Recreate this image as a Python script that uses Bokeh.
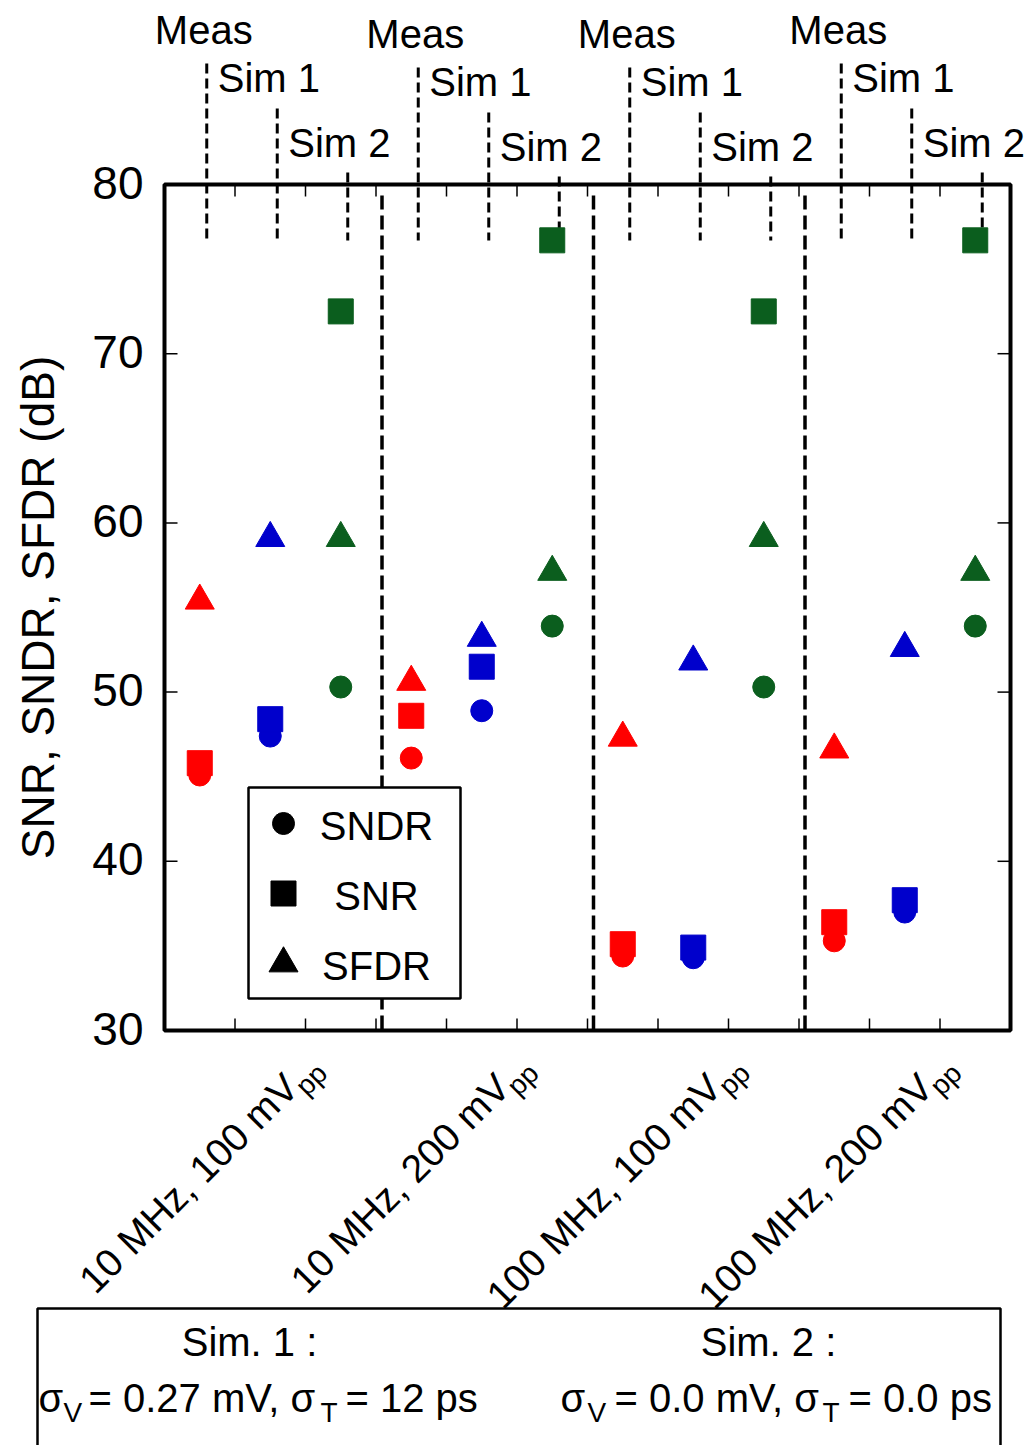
import math
from bokeh.plotting import figure
from bokeh.models import Range1d
from bokeh.core.properties import value
from bokeh.embed import file_html
from bokeh.resources import INLINE

# ---------------- data ----------------
groups = ["10 MHz, 100 mV", "10 MHz, 200 mV", "100 MHz, 100 mV", "100 MHz, 200 mV"]
cases = ["Meas", "Sim 1", "Sim 2"]
case_colors = ["#FF0000", "#0000CC", "#0B5E1E"]
# values per group, order: Meas, Sim 1, Sim 2
sndr = [[45.1, 47.4, 50.3], [46.1, 48.9, 53.9], [34.4, 34.3, 50.3], [35.3, 37.0, 53.9]]
snr = [[45.8, 48.4, 72.5], [48.6, 51.5, 76.7], [35.1, 34.9, 72.5], [36.4, 37.7, 76.7]]
sfdr = [[55.4, 59.1, 59.1], [50.6, 53.2, 57.1], [47.3, 51.8, 59.1], [46.6, 52.6, 57.1]]
y_ticks = [30, 40, 50, 60, 70, 80]
y_label = "SNR, SNDR, SFDR (dB)"
legend_labels = ["SNDR", "SNR", "SFDR"]
sim_titles = ["Sim. 1 :", "Sim. 2 :"]
sim_params = [["σ", "V", "= 0.27 mV, σ", "T", "= 12 ps"],
              ["σ", "V", "= 0.0 mV, σ", "T", "= 0.0 ps"]]

# ---------------- layout (canvas pixels -> data) ----------------
FONT = "Liberation Sans"
X0_PX, PX_PER_X = 164.0, 70.5
Y80_PX, PX_PER_DB = 184.0, 16.92
W, H = 1034, 1445

def dx(px):
    return (px - X0_PX) / PX_PER_X

def dy(py):
    return 80.0 - (py - Y80_PX) / PX_PER_DB

def wx(n):  # pixel length -> x units
    return n / PX_PER_X

def wy(n):  # pixel length -> y units
    return n / PX_PER_DB

def txt(x, y, s, size, align="left", angle=0.0):
    p.text(x=x, y=y, text=s, angle=angle, text_align=align, text_baseline="middle",
           text_font=value(FONT), text_font_size=f"{size}px", text_color="black")

p = figure(width=W, height=H, output_backend="svg", toolbar_location=None,
           x_range=Range1d(dx(0), dx(W)), y_range=Range1d(dy(H), dy(0)),
           x_axis_type=None, y_axis_type=None, min_border=0)
p.outline_line_color = None
p.background_fill_color = "white"
p.border_fill_color = "white"

n_groups = len(groups)
n_cases = len(cases)
xmax = n_groups * n_cases

# frame
p.quad(left=0, right=xmax, bottom=30, top=80, fill_color=None, line_color="black", line_width=4)

# x ticks (inward, top and bottom)
xt = list(range(1, xmax))
p.segment(x0=xt, y0=[80] * len(xt), x1=xt, y1=[80 - wy(12)] * len(xt), line_color="black", line_width=1.5)
p.segment(x0=xt, y0=[30] * len(xt), x1=xt, y1=[30 + wy(12)] * len(xt), line_color="black", line_width=1.5)
# y ticks (inward, left and right)
yt = y_ticks[1:-1]
p.segment(x0=[0] * len(yt), y0=yt, x1=[wx(13)] * len(yt), y1=yt, line_color="black", line_width=1.5)
p.segment(x0=[xmax] * len(yt), y0=yt, x1=[xmax - wx(13)] * len(yt), y1=yt, line_color="black", line_width=1.5)
# y tick labels
txt([dx(143)] * len(y_ticks), [t + wy(2) for t in y_ticks], [str(t) for t in y_ticks], 46, align="right")
# y axis label
txt([dx(37)], [dy(607)], [y_label], 46, align="center", angle=math.pi / 2)

# group separators
sep_x = [g * n_cases + wx(6) for g in range(1, n_groups)]
p.segment(x0=sep_x, y0=[dy(195)] * len(sep_x), x1=sep_x, y1=[30] * len(sep_x),
          line_color="black", line_width=3.5, line_dash="14 6")

# top case labels with dashed pointer lines
shift = [0, 4, 4, 0]
line_top_px = [63, 108, 172]
center_px = [29, 77, 142]
for g in range(n_groups):
    for c in range(n_cases):
        lx = g * n_cases + c + 0.5 + wx(7)
        p.segment(x0=[lx], y0=[dy(line_top_px[c] + shift[g])], x1=[lx], y1=[dy(240)],
                  line_color="black", line_width=3, line_dash="10 5")
        if c == 0:
            txt([lx - wx(3)], [dy(center_px[c] + shift[g])], [cases[c]], 40, align="center")
        else:
            prev = g * n_cases + (c - 1) + 0.5 + wx(7)
            txt([prev + wx(11)], [dy(center_px[c] + shift[g])], [cases[c]], 40, align="left")

# data markers
for c in range(n_cases):
    xs = [g * n_cases + c + 0.5 for g in range(n_groups)]
    col = case_colors[c]
    p.scatter(xs, [sndr[g][c] for g in range(n_groups)], marker="circle", size=22,
              fill_color=col, line_color=col)
    p.scatter(xs, [snr[g][c] for g in range(n_groups)], marker="square", size=25,
              fill_color=col, line_color=col)
    p.scatter(xs, [sfdr[g][c] for g in range(n_groups)], marker="triangle", size=29,
              fill_color=col, line_color=col)

# legend
p.quad(left=dx(248), right=dx(460), bottom=dy(998), top=dy(787), fill_color="white",
       line_color="black", line_width=2.5)
leg_y = [823, 893, 963]
for i, (mk, sz) in enumerate([("circle", 22), ("square", 25), ("triangle", 29)]):
    p.scatter([dx(283)], [dy(leg_y[i])], marker=mk, size=sz, fill_color="black", line_color="black")
txt([dx(376)] * 3, [dy(v + 2) for v in leg_y], legend_labels, 40, align="center")

# rotated group labels
for g in range(n_groups):
    gc_px = X0_PX + (g * n_cases + 1.5) * PX_PER_X
    txt([dx(gc_px + 21)], [dy(1080)], [groups[g]], 39, align="right", angle=math.pi / 4)
    txt([dx(gc_px + 30)], [dy(1090)], ["pp"], 28, align="left", angle=math.pi / 4)

# bottom parameter box (open at the bottom edge of the page)
p.multi_line(xs=[[dx(37), dx(37), dx(1000), dx(1000)]], ys=[[dy(1450), dy(1308), dy(1308), dy(1450)]],
             line_color="black", line_width=2.5)
title_cx = [249, 768]
txt([dx(v) for v in title_cx], [dy(1341)] * 2, sim_titles, 40, align="center")
piece_x = [[38, 63, 88, 320, 345], [560, 587, 614, 822, 848]]
for k in range(2):
    for j, t in enumerate(sim_params[k]):
        sub = j in (1, 3)
        txt([dx(piece_x[k][j])], [dy(1412 if sub else 1397)], [t], 28 if sub else 40, align="left")

open("out.html", "w").write(file_html(p, INLINE))
